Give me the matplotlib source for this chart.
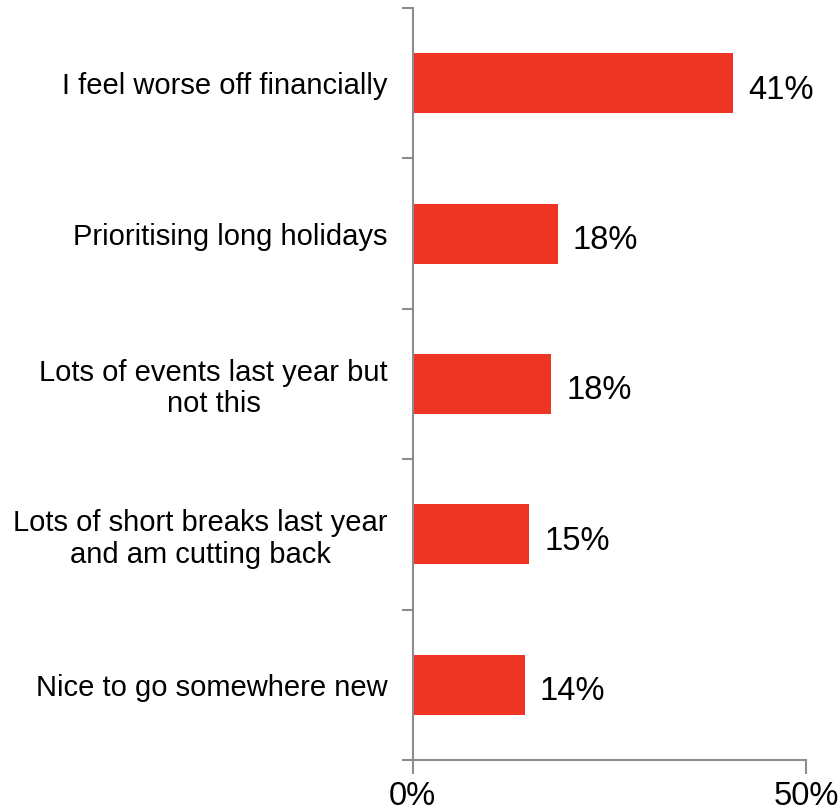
import numpy as np
import matplotlib.pyplot as plt
from matplotlib.ticker import FixedLocator

reasons = ["I feel worse off financially",
           "Prioritising long holidays",
           "Lots of events last year but\nnot this",
           "Lots of short breaks last year\nand am cutting back",
           "Nice to go somewhere new"]
shares = [40.7, 18.4, 17.6, 14.8, 14.2]
x_ticks = [0, 50]

plt.rcParams['font.family'] = ['Liberation Sans', 'DejaVu Sans']
axis_grey = '#8c8c8c'
bar_red = '#ee3524'

fig = plt.figure(figsize=(8.39, 8.11), dpi=100)
ax = fig.add_axes([0.492, 0.063, 0.469, 0.927])

y = np.arange(len(reasons))
ax.barh(y, shares, height=0.4, color=bar_red)
for yi, v in zip(y, shares):
    ax.text(v + 1.9, yi + 0.045, f"{v:.0f}%", va='center', ha='left', fontsize=23.5)

ax.set_xlim(0, 50)
ax.set_ylim(len(reasons) - 0.5, -0.5)
ax.set_xticks(x_ticks)
ax.set_xticklabels([f"{t}%" for t in x_ticks], fontsize=23.5)
ax.set_yticks(y)
ax.set_yticklabels(reasons, fontsize=21, multialignment='center',
                   linespacing=1.15)
ax.yaxis.set_minor_locator(FixedLocator(np.arange(-0.5, len(reasons), 1)))

for side in ['top', 'right']:
    ax.spines[side].set_visible(False)
for side in ['left', 'bottom']:
    ax.spines[side].set_color(axis_grey)
    ax.spines[side].set_linewidth(1.5)

ax.tick_params(axis='y', which='major', length=0, pad=18)
ax.tick_params(axis='y', which='minor', length=8, width=1.5, color=axis_grey)
ax.tick_params(axis='x', length=10, width=1.5, color=axis_grey, pad=5)

fig.savefig("out.png", dpi=100)
